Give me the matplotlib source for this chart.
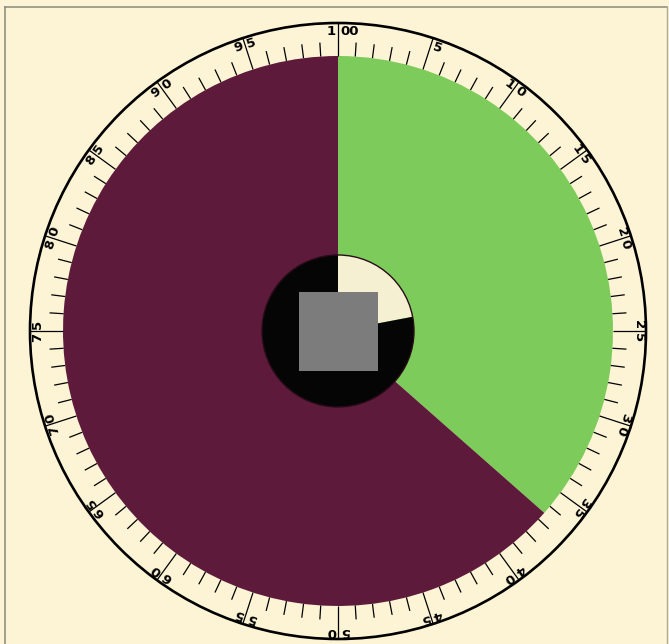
import numpy as np
import matplotlib
matplotlib.use("Agg")
import matplotlib.pyplot as plt
from matplotlib.patches import Circle, Rectangle

# disc sectors, percent of the turn, clockwise from the top
disc_names = ["green", "maroon"]
disc_shares = [36.5, 63.5]
disc_colors = ["#7dcb5a", "#5e1a3b"]

# small centre disc
inner_names = ["white", "black"]
inner_shares = [22, 78]
inner_colors = ["#f6f0d2", "#050505"]

# scale around the rim
minor_ticks = list(range(0, 100))
major_ticks = list(range(5, 101, 5))
major_labels = [str(v) for v in major_ticks]

bg = "#fcf4d5"
W, H = 669, 644
cx, cy = 338, 644 - 331
r_outer = 308
r_disc = 275
r_minor = 289
r_text = 300
r_inner = 76
sq = 79

fig = plt.figure(figsize=(W / 100, H / 100), dpi=100, facecolor=bg)
ax = fig.add_axes([0, 0, 1, 1])
ax.set_facecolor(bg)

ax.pie(disc_shares, colors=disc_colors, radius=r_disc, center=(cx, cy),
       startangle=90, counterclock=False, wedgeprops=dict(linewidth=0))
ax.pie(inner_shares, colors=inner_colors, radius=r_inner, center=(cx, cy),
       startangle=90, counterclock=False, wedgeprops=dict(linewidth=0))
ax.add_patch(Circle((cx, cy), r_inner, fill=False, ec="#2a0c18", lw=1.0))
ax.add_patch(Rectangle((cx - sq / 2, cy - sq / 2), sq, sq, fc="#7c7c7c", ec="none"))

# outer rim circle
ax.add_patch(Circle((cx, cy), r_outer, fill=False, ec="black", lw=1.9))

def polar(r, v):
    b = np.radians(v * 3.6)
    return cx + r * np.sin(b), cy + r * np.cos(b)

for v in minor_ticks:
    r1 = r_outer if v % 5 == 0 else r_minor
    x0, y0 = polar(r_disc, v)
    x1, y1 = polar(r1, v)
    ax.plot([x0, x1], [y0, y1], color="black", lw=0.9, solid_capstyle="butt")

for v, s in zip(major_ticks, major_labels):
    b = np.radians(v * 3.6)
    rot = -v * 3.6
    x, y = polar(r_text, v)
    tx, ty = np.cos(b), -np.sin(b)
    d = 2.0
    if len(s) == 1:
        pre, suf = "", s
    else:
        pre, suf = s[0], s[1:]
    if pre:
        ax.text(x - d * tx, y - d * ty, pre, rotation=rot, rotation_mode="anchor",
                ha="right", va="center", fontsize=9.5, fontweight="bold", color="black")
    ax.text(x + d * tx, y + d * ty, suf, rotation=rot, rotation_mode="anchor",
            ha="left", va="center", fontsize=9.5, fontweight="bold", color="black")

# page border lines
ax.plot([5, 5], [0, H - 7], color="#8c8a7c", lw=1.1)
ax.plot([5, 667], [H - 7, H - 7], color="#8c8a7c", lw=1.1)
ax.plot([667, 667], [0, H - 7], color="#b0ab98", lw=1.0)

ax.set_xlim(0, W)
ax.set_ylim(0, H)
ax.set_aspect("auto")
ax.axis("off")

fig.savefig("out.png", dpi=100, facecolor=bg)
